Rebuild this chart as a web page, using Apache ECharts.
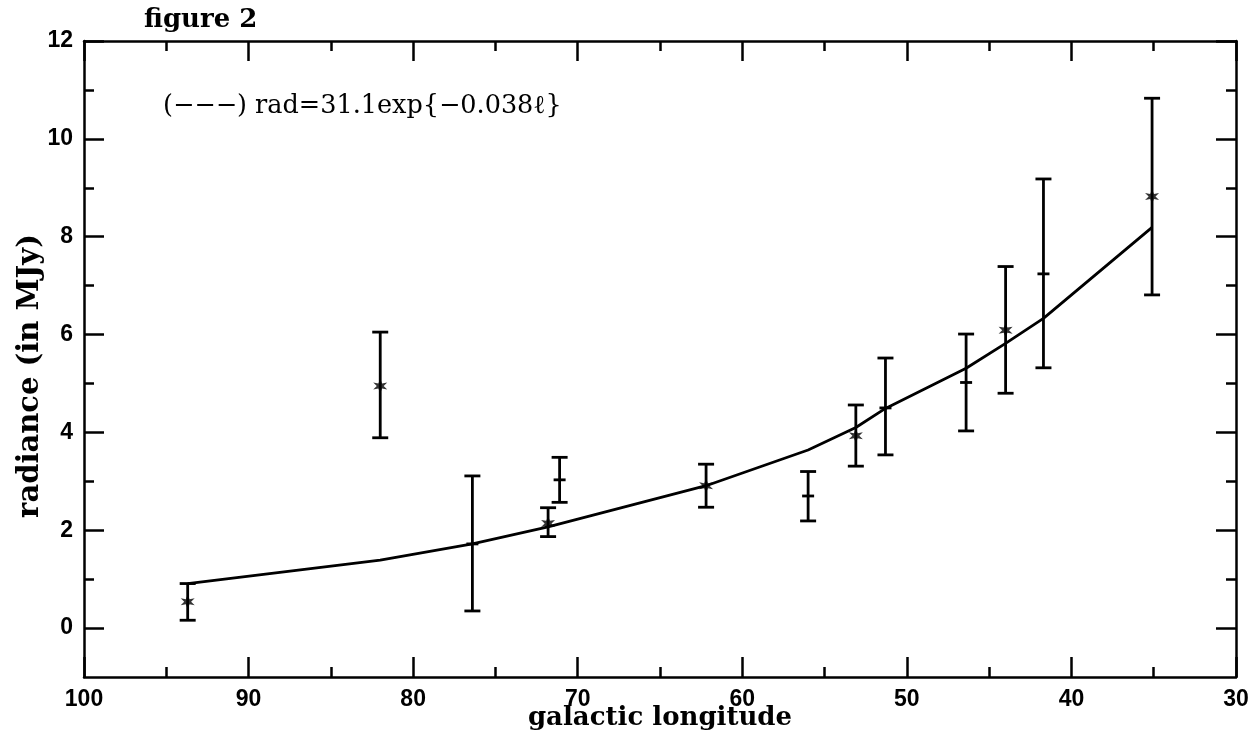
<!DOCTYPE html>
<html>
<head>
<meta charset="utf-8">
<script src="https://cdn.jsdelivr.net/npm/echarts@6/dist/echarts.min.js"></script>
<style>html,body{margin:0;padding:0;background:#fff}#c{width:1251px;height:735px}</style>
</head>
<body>
<div id="c"></div>
<script>
// ---- data ----
const lon      = [93.7, 82.0, 76.4, 71.8, 71.1, 62.2, 56.0, 53.1, 51.3, 46.4, 44.0, 41.7, 35.1];
const rad      = [0.54, 4.95, 1.72, 2.14, 3.03, 2.91, 2.70, 3.93, 4.50, 5.02, 6.09, 7.24, 8.82];
const radLow   = [0.16, 3.89, 0.35, 1.87, 2.57, 2.47, 2.19, 3.31, 3.54, 4.03, 4.80, 5.32, 6.81];
const radHigh  = [0.91, 6.05, 3.11, 2.46, 3.49, 3.35, 3.20, 4.56, 5.52, 6.01, 7.39, 9.18, 10.83];
const starred  = [1, 1, 0, 1, 0, 1, 0, 1, 0, 0, 1, 0, 1];
const fitLon   = [93.7, 82.0, 76.4, 71.8, 62.2, 56.0, 53.1, 51.3, 46.4, 44.0, 41.7, 35.1];
const fitRad   = [0.91, 1.39, 1.72, 2.07, 2.91, 3.64, 4.10, 4.49, 5.31, 5.82, 6.33, 8.19];
const xMajor   = [100, 90, 80, 70, 60, 50, 40, 30];
const xMinor   = [95, 85, 75, 65, 55, 45, 35];
const yMajor   = [0, 2, 4, 6, 8, 10, 12];
const yMinor   = [1, 3, 5, 7, 9, 11];
const titleText  = 'figure 2';
const fitText    = '(\u2212\u2212\u2212) rad=31.1exp{\u22120.038\u2113}';
const xName = 'galactic longitude';
const yName = 'radiance (in MJy)';

const chart = echarts.init(document.getElementById('c'));
const INK = '#000';
const labelFont = {color: INK, fontFamily: 'Liberation Sans', fontWeight: 'bold', fontSize: 23};

function xAx(pos, vals, len, showLabel, showLine, extra) {
  return Object.assign({
    type: 'value', position: pos, inverse: true, min: 30, max: 100,
    axisLine: {show: showLine, onZero: false, lineStyle: {color: INK, width: 2.5}},
    axisTick: {show: true, inside: true, length: len, customValues: vals, lineStyle: {color: INK, width: 2.5}},
    axisLabel: {show: showLabel, customValues: vals, margin: 11, ...labelFont},
    splitLine: {show: false}
  }, extra || {});
}
function yAx(pos, vals, len, showLabel, showLine, extra) {
  return Object.assign({
    type: 'value', position: pos, min: -1, max: 12,
    axisLine: {show: showLine, onZero: false, lineStyle: {color: INK, width: 2.5}},
    axisTick: {show: true, inside: true, length: len, customValues: vals, lineStyle: {color: INK, width: 2.5}},
    axisLabel: {show: showLabel, customValues: vals, margin: 11, ...labelFont},
    splitLine: {show: false}
  }, extra || {});
}

const errData = lon.map((l, i) => [l, radLow[i], radHigh[i], rad[i], starred[i]]);
const starData = lon.map((l, i) => [l, rad[i]]).filter((d, i) => starred[i]);
const fitData = fitLon.map((l, i) => [l, fitRad[i]]);

const starPath = 'path://M50,0 L62,32 L95,25 L72,50 L95,75 L62,68 L50,100 L38,68 L5,75 L28,50 L5,25 L38,32 Z';

chart.setOption({
  animation: false,
  backgroundColor: '#fff',
  grid: {left: 84, right: 15, top: 41, bottom: 58, containLabel: false, outerBoundsMode: 'none'},
  title: {text: titleText, left: 139, top: 2,
    textStyle: {fontFamily: 'DejaVu Serif', fontWeight: 'bold', fontSize: 26, color: INK}},
  graphic: [
    {type: 'text', left: 163, top: 93,
      style: {text: fitText, fontFamily: 'DejaVu Serif', fontSize: 25.5, fill: INK}},
    {type: 'text', x: 30, y: 376, rotation: Math.PI / 2,
      style: {text: yName, fontFamily: 'DejaVu Serif', fontWeight: 'bold', fontSize: 29, fill: INK,
        align: 'center', verticalAlign: 'middle'}}
  ],
  xAxis: [
    xAx('bottom', xMajor, 20, true, true, {name: xName, nameLocation: 'middle', nameGap: 28, nameMoveOverlap: false,
      nameTextStyle: {fontFamily: 'DejaVu Serif', fontWeight: 'bold', fontSize: 26, color: INK}}),
    xAx('bottom', xMinor, 10, false, false),
    xAx('top', xMajor, 20, false, true),
    xAx('top', xMinor, 10, false, false)
  ],
  yAxis: [
    yAx('left', yMajor, 20, true, true),
    yAx('left', yMinor, 10, false, false),
    yAx('right', yMajor, 20, false, true),
    yAx('right', yMinor, 10, false, false)
  ],
  series: [
    {type: 'line', data: fitData, xAxisIndex: 0, yAxisIndex: 0, showSymbol: false, symbol: 'none',
      lineStyle: {color: INK, width: 2.8}, z: 3},
    {type: 'custom', data: errData, xAxisIndex: 0, yAxisIndex: 0, z: 4,
      renderItem: function (params, api) {
        const x = api.value(0);
        const lo = api.coord([x, api.value(1)]);
        const hi = api.coord([x, api.value(2)]);
        const mid = api.coord([x, api.value(3)]);
        const cap = 8;
        const st = {stroke: INK, lineWidth: 2.8};
        const children = [
          {type: 'line', shape: {x1: lo[0], y1: lo[1], x2: hi[0], y2: hi[1]}, style: st},
          {type: 'line', shape: {x1: lo[0] - cap, y1: lo[1], x2: lo[0] + cap, y2: lo[1]}, style: st},
          {type: 'line', shape: {x1: hi[0] - cap, y1: hi[1], x2: hi[0] + cap, y2: hi[1]}, style: st}
        ];
        if (!api.value(4)) {
          children.push({type: 'line', shape: {x1: mid[0] - 6, y1: mid[1], x2: mid[0] + 6, y2: mid[1]}, style: st});
        }
        return {type: 'group', children: children};
      }},
    {type: 'scatter', data: starData, xAxisIndex: 0, yAxisIndex: 0, symbol: starPath, symbolSize: 14,
      itemStyle: {color: INK}, z: 5}
  ]
});
</script>
</body>
</html>
